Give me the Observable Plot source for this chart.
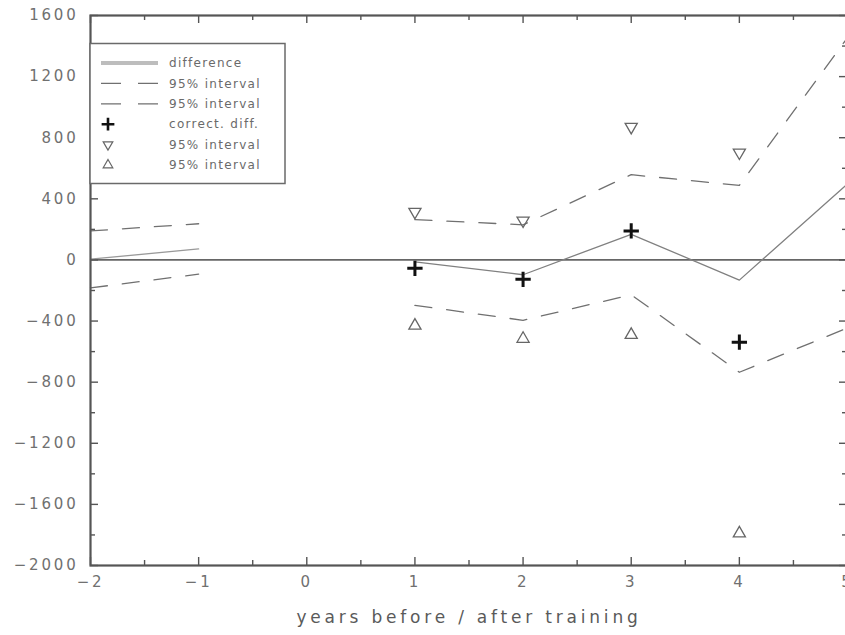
<!DOCTYPE html>
<html>
<head>
<meta charset="utf-8">
<script src="https://cdn.jsdelivr.net/npm/d3@7"></script>
<script src="https://cdn.jsdelivr.net/npm/@observablehq/plot@0.6"></script>
<style>
  html, body { margin: 0; padding: 0; background: #fff; overflow: hidden; }
  #chart svg text { letter-spacing: 2.8px; }
</style>
</head>
<body>
<div id="chart"></div>
<script>
// ---- data ----
const yearsPre = [-2, -1];
const diffPre = [5, 72];
const upperPre = [190, 237];
const lowerPre = [-183, -93];

const yearsPost = [1, 2, 3, 4, 5];
const diffPost = [-12, -97, 168, -132, 497];
const upperPost = [264, 230, 558, 488, 1455];
const lowerPost = [-297, -395, -228, -735, -445];

const markYears = [1, 2, 3, 4];
const corrDiff = [-55, -127, 190, -538];
const upperMark = [315, 258, 871, 703];
const lowerMark = [-430, -516, -490, -1790];

const xTickLabels = [-2, -1, 0, 1, 2, 3, 4, 5];
const yTickLabels = [-2000, -1600, -1200, -800, -400, 0, 400, 800, 1200, 1600];
const xTitle = "years before / after training";
const legendLabels = ["difference", "95% interval", "95% interval", "correct. diff.", "95% interval", "95% interval"];

// ---- tables ----
const pre = yearsPre.map((x, i) => ({x, diff: diffPre[i], up: upperPre[i], lo: lowerPre[i]}));
const post = yearsPost.map((x, i) => ({x, diff: diffPost[i], up: upperPost[i], lo: lowerPost[i]}));
const pts = markYears.map((x, i) => ({x, corr: corrDiff[i], up: upperMark[i], lo: lowerMark[i]}));

const W = 845, H = 635;
const mL = 90, mR = -2, mT = 15, mB = 70;
const plotW = W - mL - mR, plotH = H - mT - mB;

const xMajor = d3.range(-2, 5.001, 1);
const xMinor = d3.range(-1.5, 5, 1);
const yMajor = d3.range(-2000, 1601, 400);
const yMinor = d3.range(-1800, 1600, 400);

const fmt = d => (d < 0 ? "\u2212" : "") + Math.abs(d);
const dash = "17,15";
const lineGray = "#707070";

const plot = Plot.plot({
  width: W, height: H,
  marginLeft: mL, marginRight: mR, marginTop: mT, marginBottom: mB,
  style: {fontFamily: "DejaVu Sans", fontSize: "15px", color: "#6a6a6a", background: "#fff"},
  x: {domain: [-2, 5]},
  y: {domain: [-2000, 1600]},
  marks: [
    // zero reference line
    Plot.ruleY([0], {stroke: "#666", strokeWidth: 1.8}),
    // intervals (dashed)
    Plot.line(pre, {x: "x", y: "up", stroke: lineGray, strokeWidth: 1.3, strokeDasharray: dash}),
    Plot.line(pre, {x: "x", y: "lo", stroke: lineGray, strokeWidth: 1.3, strokeDasharray: dash}),
    Plot.line(post, {x: "x", y: "up", stroke: lineGray, strokeWidth: 1.3, strokeDasharray: dash}),
    Plot.line(post, {x: "x", y: "lo", stroke: lineGray, strokeWidth: 1.3, strokeDasharray: dash}),
    // difference (solid)
    Plot.line(pre, {x: "x", y: "diff", stroke: "#999", strokeWidth: 1.3}),
    Plot.line(post, {x: "x", y: "diff", stroke: "#808080", strokeWidth: 1.3}),
    // markers
    Plot.dot(pts, {x: "x", y: "up", symbol: "triangle", rotate: 180, r: 4.5, stroke: "#666", strokeWidth: 1.3, fill: "none"}),
    Plot.dot(pts, {x: "x", y: "lo", symbol: "triangle", r: 4.5, stroke: "#666", strokeWidth: 1.3, fill: "none"}),
    Plot.dot(pts, {x: "x", y: "corr", symbol: "plus", r: 5, stroke: "#111", strokeWidth: 3}),
    // inward ticks
    Plot.ruleY(yMajor, {y: d => d, insetRight: plotW - 8, stroke: "#555", strokeWidth: 1.4}),
    Plot.ruleY(yMinor, {y: d => d, insetRight: plotW - 5, stroke: "#555", strokeWidth: 1.4}),
    Plot.ruleY(yMajor, {y: d => d, insetLeft: plotW - 8, stroke: "#555", strokeWidth: 1.4}),
    Plot.ruleY(yMinor, {y: d => d, insetLeft: plotW - 5, stroke: "#555", strokeWidth: 1.4}),
    Plot.ruleX(xMajor, {x: d => d, insetTop: plotH - 8, stroke: "#555", strokeWidth: 1.4}),
    Plot.ruleX(xMinor, {x: d => d, insetTop: plotH - 5, stroke: "#555", strokeWidth: 1.4}),
    Plot.ruleX(xMajor, {x: d => d, insetBottom: plotH - 8, stroke: "#555", strokeWidth: 1.4}),
    Plot.ruleX(xMinor, {x: d => d, insetBottom: plotH - 5, stroke: "#555", strokeWidth: 1.4}),
    Plot.frame({stroke: "#555", strokeWidth: 2.2}),
    // axes labels
    Plot.axisY({ticks: yTickLabels, tickSize: 0, tickPadding: 12, tickFormat: fmt, label: null, fill: "#707070"}),
    Plot.axisX({ticks: xTickLabels, tickSize: 0, tickPadding: 11, tickFormat: fmt, label: null, fill: "#707070"}),
    Plot.text([xTitle], {text: d => d, frameAnchor: "bottom", dy: 57, fontSize: 17, fill: "#5a5a5a"})
  ]
});

document.getElementById("chart").appendChild(plot);
// wider spacing for the axis title
d3.select(plot).selectAll("text").filter(function() { return this.textContent === xTitle; })
  .style("letter-spacing", "3.8px");

// ---- legend (inside plot, top-left) ----
const svg = d3.select(plot);
const lg = svg.append("g").attr("font-family", "DejaVu Sans").attr("font-size", 12).attr("fill", "#6a6a6a")
  .attr("text-anchor", "start");
lg.append("rect").attr("x", 90).attr("y", 43.5).attr("width", 195).attr("height", 140)
  .attr("fill", "#fff").attr("stroke", "#6a6a6a").attr("stroke-width", 1.5);
const rowY = legendLabels.map((_, i) => 63 + i * 20.4);
const sx1 = 101, sx2 = 158, mx = 108, tx = 169;
lg.append("line").attr("x1", sx1).attr("x2", sx2).attr("y1", rowY[0]).attr("y2", rowY[0])
  .attr("stroke", "#bdbdbd").attr("stroke-width", 4);
[1, 2].forEach(i => lg.append("line").attr("x1", sx1).attr("x2", sx2).attr("y1", rowY[i]).attr("y2", rowY[i])
  .attr("stroke", lineGray).attr("stroke-width", 1.3).attr("stroke-dasharray", "20,17"));
lg.append("path").attr("d", d3.symbol(d3.symbolPlus, 55)()).attr("transform", `translate(${mx},${rowY[3]})`)
  .attr("stroke", "#111").attr("stroke-width", 2.6).attr("fill", "none");
lg.append("path").attr("d", d3.symbol(d3.symbolTriangle, 40)()).attr("transform", `translate(${mx},${rowY[4]}) rotate(180)`)
  .attr("stroke", "#666").attr("stroke-width", 1.2).attr("fill", "none");
lg.append("path").attr("d", d3.symbol(d3.symbolTriangle, 40)()).attr("transform", `translate(${mx},${rowY[5]})`)
  .attr("stroke", "#666").attr("stroke-width", 1.2).attr("fill", "none");
lg.selectAll("text.lab").data(legendLabels).join("text").attr("class", "lab")
  .attr("x", tx).attr("y", (d, i) => rowY[i]).attr("dy", "0.35em").style("letter-spacing", "1.3px").text(d => d);
</script>
</body>
</html>
